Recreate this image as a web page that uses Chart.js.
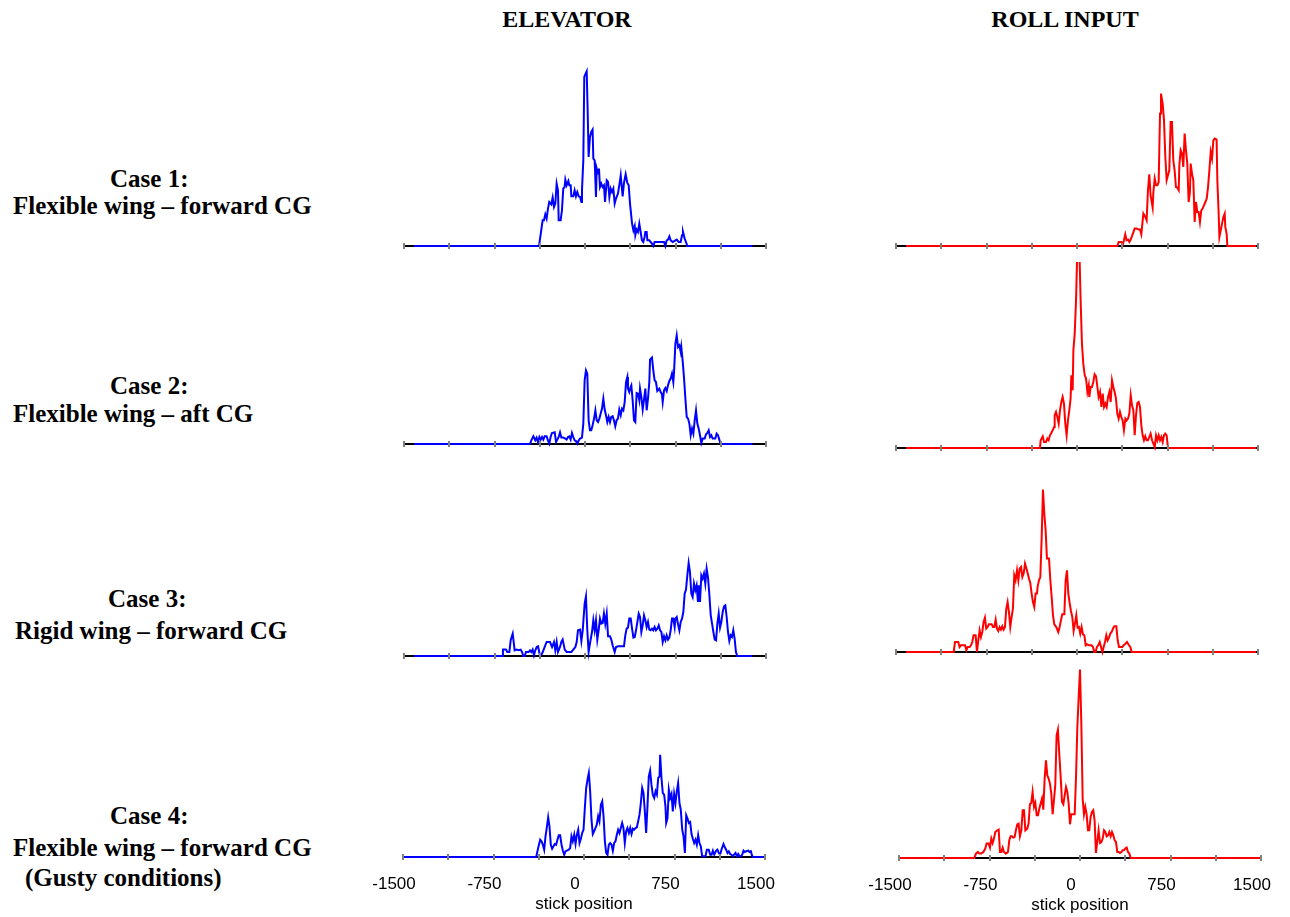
<!DOCTYPE html>
<html><head><meta charset="utf-8">
<script src="https://cdn.jsdelivr.net/npm/chart.js@4.4.1/dist/chart.umd.min.js"></script>
<style>
html,body{margin:0;padding:0;background:#fff;overflow:hidden;width:1290px;height:917px;}
.t{position:absolute;font-family:"Liberation Serif","Times New Roman",serif;font-weight:bold;color:#000;white-space:nowrap;line-height:1;}
.c{text-align:center;width:300px;}
canvas{position:absolute;}
</style></head><body>
<div class="t c" style="left:417px;top:7px;font-size:24px;">ELEVATOR</div>
<div class="t c" style="left:915px;top:7px;font-size:24px;">ROLL INPUT</div>

<div class="t" style="left:110px;top:166px;font-size:25px;">Case 1:</div>
<div class="t" style="left:13px;top:193px;font-size:25px;">Flexible wing – forward CG</div>
<div class="t" style="left:110px;top:373px;font-size:25px;">Case 2:</div>
<div class="t" style="left:13px;top:401px;font-size:25px;">Flexible wing – aft CG</div>
<div class="t" style="left:108px;top:586px;font-size:25px;">Case 3:</div>
<div class="t" style="left:15px;top:618px;font-size:25px;">Rigid wing – forward CG</div>
<div class="t" style="left:110px;top:803px;font-size:25px;">Case 4:</div>
<div class="t" style="left:13px;top:835px;font-size:25px;">Flexible wing – forward CG</div>
<div class="t" style="left:25px;top:865px;font-size:25px;">(Gusty conditions)</div>

<canvas id="e1"></canvas><canvas id="r1"></canvas>
<canvas id="e2"></canvas><canvas id="r2"></canvas>
<canvas id="e3"></canvas><canvas id="r3"></canvas>
<canvas id="e4"></canvas><canvas id="r4"></canvas>

<script>
// stick position axis
const tickValues = [-1500,-1125,-750,-375,0,375,750,1125,1500];
const labeledTicks = [-1500,-750,0,750,1500];
const axisTitle = 'stick position';

// [stick position, frequency] pairs
const elevatorCase1 = [[-1417,0],[-381,0],[-351,25.7],[-340,25.7],[-329,31.7],[-318,27.4],[-307,37.4],[-296,44],[-279,41.7],[-268,48.4],[-257,39],[-246,42.4],[-235,62.4],[-224,55.7],[-218,25.7],[-202,25.7],[-191,35.7],[-180,57.4],[-169,59],[-163,66.4],[-152,60.7],[-138,65],[-130,60.7],[-119,60.7],[-113,49.7],[-97,49.7],[-86,55.7],[-75,49.7],[-64,54],[-52,49.7],[-41,49],[-30,44],[-25,55.7],[-14,85.7],[-6,169],[5,172.4],[14,174.7],[22,135.7],[30,89],[41,109],[52,114],[63,116.4],[69,87.4],[80,85.7],[91,49],[97,77.4],[108,72.4],[116,77.4],[124,59],[135,62.4],[146,59],[157,60.7],[166,44],[180,65.7],[191,64],[202,49],[213,57.4],[224,54],[235,57.4],[246,42.4],[257,47.4],[273,52.4],[284,60.7],[296,70.7],[312,49.7],[323,63],[337,71.7],[351,63],[362,60.7],[373,42.4],[390,22.4],[401,15.7],[412,20],[417,10.7],[428,16.4],[439,14],[450,22.4],[461,14],[472,5.7],[483,4],[494,9],[500,14],[511,14],[517,5.7],[533,5.7],[544,4],[555,2.4],[566,0],[577,4],[655,4],[666,0],[677,5.7],[688,6.4],[699,9.7],[710,5.7],[727,4],[749,5.7],[760,6.4],[776,4],[793,4],[804,10.7],[812,14],[826,7.4],[837,4],[848,0],[1390,0]];
const rollCase1 = [[-1417,0],[334,0],[345,4],[367,4],[378,0.7],[389,5.7],[400,11.7],[411,5.7],[423,6.4],[434,4],[445,6.4],[461,11.7],[478,17.4],[494,17.4],[511,16.4],[522,16.4],[533,11.7],[550,32.4],[566,29],[577,25.7],[588,55.7],[599,71.7],[610,50.7],[627,38.4],[633,54],[644,67.4],[655,60.7],[666,60.7],[677,64],[682,95.7],[688,132.4],[696,152.4],[710,142.4],[721,125.7],[732,89],[743,65.7],[754,70.7],[765,75.7],[776,124],[787,124],[798,85.7],[809,75.7],[820,59],[831,58.4],[843,55.7],[848,80.7],[859,95.7],[870,92.4],[881,79],[892,112.4],[903,95.7],[914,82.4],[925,44],[936,54],[942,82.4],[953,72.4],[964,65.7],[975,24],[986,44],[997,34],[1008,34],[1019,24],[1030,35.7],[1041,37.4],[1052,40.7],[1064,44],[1075,47.4],[1086,59],[1097,75.7],[1108,94],[1119,87.4],[1130,105.7],[1141,107.4],[1157,106.4],[1163,65.7],[1174,32.4],[1180,9],[1191,15.7],[1202,22.4],[1213,29],[1224,32.4],[1229,19],[1240,12.4],[1246,0],[1484,0]];
const elevatorCase2 = [[-1417,0],[-456,0],[-445,3.7],[-428,7.7],[-412,3.7],[-401,6.4],[-390,2],[-378,7],[-367,4.4],[-356,7],[-345,4.4],[-334,7.7],[-318,7.7],[-307,3.7],[-296,0.4],[-285,7],[-274,11],[-251,11.7],[-240,2],[-229,4.4],[-218,7],[-207,11.7],[-196,6.4],[-180,6.4],[-163,5.4],[-152,4.4],[-141,7],[-130,7.7],[-119,4.4],[-108,11],[-97,7],[-86,3.7],[-75,3],[-64,0.4],[-52,3.7],[-41,5.4],[-25,6.4],[-14,20.4],[-3,63.7],[8,73.7],[19,70.4],[30,23.7],[41,13.7],[52,13.7],[63,18.7],[75,25.4],[86,33.7],[97,23.7],[108,22],[119,25.4],[130,30.4],[141,35.4],[152,45.4],[163,34.4],[174,28.7],[185,22],[196,27],[207,22],[218,27],[229,27.7],[240,23.7],[251,17.7],[262,23.7],[273,25.4],[284,34.4],[296,28.7],[307,35.4],[318,33.7],[329,42],[340,62],[351,67],[356,55.4],[367,52],[378,57],[384,58.7],[395,43.7],[406,23.7],[417,22],[428,51],[439,50.4],[450,43.7],[456,55.4],[467,47],[478,34.4],[489,44.4],[500,55.4],[511,33.7],[522,45.4],[533,62],[539,84.4],[555,86.4],[566,73.7],[577,63.7],[588,62],[599,53],[616,55.4],[627,52],[638,49.7],[644,42],[655,53.7],[666,56],[677,53],[688,58.7],[699,63],[710,65.4],[721,70.4],[732,62],[738,72],[749,100.4],[760,108.7],[771,97],[782,98.7],[793,92],[798,97],[809,83.7],[820,67],[831,47],[843,27],[854,25.4],[865,20.4],[876,8.7],[887,15.4],[898,10.4],[909,23.7],[920,33.7],[931,20.4],[942,15.4],[953,8.7],[964,1],[975,5.4],[992,5.4],[1003,9.7],[1014,11],[1025,13.7],[1036,7],[1047,8.7],[1058,5.4],[1080,5.4],[1091,10.4],[1102,8.7],[1113,4.4],[1124,0],[1390,0]];
const rollCase2 = [[-1417,0],[-307,0],[-301,7.7],[-284,11.7],[-273,6],[-257,6],[-246,9.4],[-235,7.7],[-224,12.7],[-213,15],[-202,17.7],[-190,21],[-185,32.7],[-174,36],[-163,31],[-152,24.4],[-141,37.7],[-130,46],[-119,51],[-108,44.4],[-97,24.4],[-86,12.7],[-75,27.7],[-64,37.7],[-53,49.4],[-47,72.7],[-36,57.7],[-30,97.7],[-19,114.4],[-8,147.7],[11,240],[30,147.7],[41,104.4],[52,84.4],[64,72.7],[75,69.4],[86,56],[97,62.7],[102,51],[113,61],[124,61],[135,66],[146,73.7],[158,71.7],[169,61],[179,51],[191,56],[202,41],[213,54.4],[224,41],[235,44.4],[246,41],[257,51],[268,56],[279,46],[290,67.7],[301,61],[312,56],[323,49.4],[334,34.4],[345,29.4],[356,36],[367,31],[378,27.7],[389,17.7],[401,29.4],[412,27.7],[423,29.4],[434,34.4],[445,52.7],[456,42.7],[467,37.7],[478,12.7],[489,32.7],[500,45],[511,46],[522,41],[533,22.7],[544,12.7],[555,7.7],[566,11.7],[577,7.7],[588,7.7],[599,11],[610,14.4],[622,7.7],[633,4.4],[644,1],[655,12.7],[666,7.7],[677,12.7],[688,7.7],[699,11],[710,6],[721,12.7],[732,14.4],[743,12.7],[754,0],[1484,0]];
const elevatorCase3 = [[-1417,0],[-682,0],[-680,6.4],[-655,6.4],[-644,4],[-627,4],[-616,15.7],[-599,22.4],[-583,5.7],[-566,6.4],[-550,5.7],[-533,6.4],[-522,4],[-511,0],[-500,0],[-489,4],[-467,4],[-456,5.7],[-445,4],[-434,6.4],[-423,0.7],[-412,5.7],[-400,9],[-389,9.7],[-373,0],[-356,2.4],[-345,5.7],[-329,10.7],[-318,14],[-290,14],[-273,9],[-257,14],[-246,5.7],[-235,14],[-224,4],[-207,9],[-196,14],[-185,16.4],[-168,6.4],[-152,4],[-130,4],[-113,4],[-97,6.4],[-80,9],[-69,14],[-58,25.7],[-41,26.4],[-30,15],[-19,25.7],[-3,52.4],[8,59.7],[19,25.7],[30,4],[41,12.4],[58,24],[69,35.7],[80,25.7],[91,35.7],[102,16.4],[113,25.7],[124,37.4],[135,32.4],[146,33],[157,42.4],[168,32.4],[180,42.4],[191,19.7],[207,19.7],[218,16.4],[229,10.7],[246,4],[257,9],[274,9.7],[323,9.7],[334,20.7],[345,27.4],[356,28.4],[367,37.4],[379,37.4],[390,27.4],[401,18.4],[412,19],[423,25.7],[434,34],[445,42.4],[456,39],[467,24],[478,30.7],[489,40.7],[500,35.7],[511,29],[522,34],[533,26.4],[544,25.7],[555,27.4],[566,25.7],[577,29],[588,25.7],[600,27.4],[611,30.7],[622,25.7],[633,24],[644,14],[655,19.7],[666,15.7],[677,20.7],[688,16.4],[699,18.4],[710,25.7],[721,37.4],[732,37.4],[743,29],[749,37.4],[760,39],[771,31.7],[782,25.7],[793,34],[804,37.4],[815,44],[826,62.4],[837,66.4],[848,80.7],[859,93],[870,84],[881,62.4],[892,59],[903,72.4],[914,65.7],[925,70.7],[936,54],[942,70.7],[953,54],[964,80.7],[975,77.4],[986,82.4],[997,72.4],[1008,87.4],[1019,79],[1030,62.4],[1042,40.7],[1053,32.4],[1064,24],[1075,16.4],[1086,15.7],[1097,32.4],[1108,42.4],[1119,28.4],[1130,34],[1141,44],[1152,49.7],[1163,50.7],[1174,39],[1185,24],[1196,15],[1207,20.7],[1218,19],[1229,25.7],[1240,17.4],[1251,4],[1262,0],[1390,0]];
const rollCase3 = [[-1417,0],[-1022,0],[-1011,10],[-984,10],[-973,5],[-962,6.7],[-928,6.7],[-917,1.7],[-906,5],[-890,5],[-879,6.7],[-868,10],[-857,16.7],[-840,16.7],[-829,0],[-818,11.7],[-807,21.7],[-796,15],[-785,20],[-774,30],[-763,34.4],[-752,23.4],[-741,25],[-730,27.7],[-707,27.7],[-696,25],[-685,25],[-674,32.4],[-663,23.4],[-652,21],[-641,25],[-630,22.4],[-619,25.7],[-608,22.4],[-597,25],[-586,43.4],[-575,50],[-564,40],[-553,25],[-542,35],[-531,43.4],[-520,76.7],[-509,71.7],[-497,81.7],[-486,71.7],[-475,83.4],[-464,85],[-453,75],[-442,78.4],[-431,88.4],[-415,81.7],[-398,73.4],[-387,69],[-376,58.4],[-365,50],[-354,45],[-343,58.4],[-332,58.4],[-326,65.7],[-315,71.7],[-304,75],[-293,113.4],[-282,162.4],[-271,138.4],[-260,121.7],[-249,93.4],[-232,93.4],[-221,71.7],[-210,55],[-199,36.7],[-188,27.7],[-172,25],[-155,20],[-144,25],[-133,31.7],[-122,37.7],[-105,37.7],[-94,71.7],[-83,81.7],[-72,58.4],[-61,49],[-50,41],[-39,35],[-28,21],[-17,28.4],[-6,36.7],[5,24.4],[16,25],[27,18.4],[38,25],[49,17.7],[61,16.7],[72,6.7],[83,7.7],[99,6.7],[121,6.7],[132,5],[143,0],[154,0],[165,5],[176,6.7],[188,10],[199,5],[210,0],[221,5],[232,10],[243,16.7],[254,11.7],[265,14.4],[276,18.4],[287,20],[298,23.4],[309,25.7],[326,25.7],[337,11.7],[348,5],[359,5],[375,5],[387,6.7],[403,8.4],[414,10],[431,6.7],[442,5],[453,0],[1484,0]];
const elevatorCase4 = [[-1500,0],[-396,0],[-380,9],[-363,17.3],[-352,15.7],[-341,12.3],[-330,7.3],[-319,20.7],[-308,29.7],[-297,39.7],[-286,30.7],[-275,12.3],[-264,8.3],[-253,10.7],[-242,13],[-231,12.3],[-220,17.3],[-209,21.7],[-198,21.7],[-186,12.3],[-175,6.3],[-164,2.3],[-153,5.7],[-142,6.3],[-126,7.3],[-115,9],[-104,20.7],[-93,15.7],[-81,22.3],[-70,13],[-59,22.3],[-48,27.3],[-37,14],[-26,18.3],[-15,24],[-4,27.3],[7,49],[18,69],[29,77.3],[40,84],[51,65.7],[62,37.3],[73,23],[84,25.7],[95,29],[106,32.3],[117,40.7],[128,35.7],[140,52.3],[151,55.7],[162,40.7],[173,15.7],[184,4],[195,2.3],[206,12.3],[217,14],[228,12.3],[239,6.3],[250,14],[261,15.7],[272,22.3],[283,27.3],[294,24],[305,29],[316,34],[327,29],[338,14],[349,25.7],[360,29],[372,24],[383,29],[394,23],[405,28.3],[416,27.3],[427,29],[438,29.7],[449,35.7],[460,42.3],[471,54],[482,69],[493,64],[504,45.7],[515,24],[526,50.7],[537,80.7],[548,86.3],[559,72.3],[570,62.3],[582,59],[593,65.7],[604,62.3],[615,79],[626,80.7],[631,102.3],[642,79],[653,64],[664,62.3],[675,50.7],[681,34],[692,39],[703,67.3],[714,59],[725,63],[736,45.7],[747,63],[758,54],[769,65.7],[780,74],[791,54],[802,47.3],[814,27.3],[825,20.7],[836,4],[847,41.7],[858,38.3],[869,34],[880,35],[891,23],[902,18.3],[913,14],[924,17.3],[935,12.3],[946,21.7],[957,14],[968,10.7],[979,0.7],[990,0.7],[1007,0.7],[1018,7.3],[1034,7.3],[1046,2.3],[1057,2.3],[1068,6.3],[1079,2.3],[1095,6.3],[1106,7.3],[1117,4],[1128,2.3],[1139,7.3],[1156,13],[1167,9.7],[1178,7.3],[1189,4],[1200,5.7],[1211,3],[1222,2.3],[1233,0.7],[1244,2.3],[1256,4],[1267,0.7],[1278,3],[1289,0.7],[1300,0.7],[1311,2.3],[1322,6.3],[1333,5],[1344,5.7],[1361,6.3],[1372,5],[1383,5.7],[1394,0.7],[1405,0],[1500,0]];
const rollCase4 = [[-1500,0],[-876,0],[-862,4.4],[-846,6],[-834,4.4],[-818,4.4],[-801,6],[-785,9.4],[-774,14.4],[-757,14.4],[-746,10.4],[-735,19.4],[-724,15],[-713,19.4],[-702,26],[-685,27.7],[-674,28.4],[-663,6],[-652,6],[-641,10.4],[-630,6],[-614,4.4],[-597,6],[-586,17.7],[-575,21.7],[-564,21.7],[-553,20.4],[-542,21],[-531,27.7],[-520,33.7],[-509,34.4],[-498,21.7],[-486,27.7],[-475,47.7],[-464,47.7],[-453,27.7],[-437,29.4],[-426,34.4],[-415,53.7],[-404,55],[-393,66],[-381,51],[-370,55],[-359,42.7],[-348,42.7],[-337,49.4],[-326,54.4],[-315,59.4],[-304,48.4],[-293,79.4],[-282,97.7],[-271,82.7],[-260,79.4],[-249,74.4],[-238,64.4],[-227,43.7],[-216,57.7],[-205,72.7],[-194,122.7],[-183,128.4],[-172,104.4],[-160,81],[-149,56],[-138,53.7],[-127,62.7],[-116,71],[-105,66],[-94,54.4],[-83,33.7],[-72,43.7],[-61,43.7],[-44,43.7],[-33,81],[-22,131],[-11,161],[0,188.4],[11,134.4],[22,59.4],[33,43.7],[44,51],[55,43.7],[66,27.7],[77,27.7],[88,41],[99,46],[110,47.7],[121,37.7],[132,5],[143,16],[154,27.7],[166,15],[177,16],[188,19.4],[199,27.7],[210,26],[221,21.7],[232,22.7],[243,26],[254,21.7],[265,26],[276,22.7],[287,17.7],[298,16],[309,6],[320,6],[331,5],[342,6],[353,7.7],[364,7.7],[375,9.4],[387,10.4],[398,6],[409,4.4],[420,0],[1500,0]];

const BLUE = '#0000ff', RED = '#ff0000';
const PAD_L = 40, PAD_T = 5, AXIS_H = 70, PLOT_W = 362;

const panels = [
  {id:'e1', data:elevatorCase1, color:BLUE, left:404, base:246, ymax:180, labels:false, clipTop:5},
  {id:'r1', data:rollCase1,     color:RED,  left:896, base:246, ymax:180, labels:false, clipTop:5},
  {id:'e2', data:elevatorCase2, color:BLUE, left:404, base:444, ymax:180, labels:false, clipTop:5},
  {id:'r2', data:rollCase2,     color:RED,  left:896, base:448, ymax:186, labels:false, clipTop:0},
  {id:'e3', data:elevatorCase3, color:BLUE, left:404, base:656, ymax:180, labels:false, clipTop:5},
  {id:'r3', data:rollCase3,     color:RED,  left:896, base:652, ymax:180, labels:false, clipTop:5},
  {id:'e4', data:elevatorCase4, color:BLUE, left:403, base:857, ymax:190, labels:true,  clipTop:5},
  {id:'r4', data:rollCase4,     color:RED,  left:899, base:858, ymax:190, labels:true,  clipTop:5}
];

const tickMarks = {
  id:'tickMarks',
  afterDatasetsDraw(chart){
    const s = chart.scales.x, ctx = chart.ctx, yb = chart.chartArea.bottom;
    ctx.save();
    ctx.strokeStyle = '#808080'; ctx.lineWidth = 2;
    s.ticks.forEach(t => {
      const x = Math.round(s.getPixelForValue(t.value));
      ctx.beginPath(); ctx.moveTo(x, yb - 3); ctx.lineTo(x, yb + 3); ctx.stroke();
    });
    ctx.restore();
  }
};

panels.forEach(p => {
  const cv = document.getElementById(p.id);
  const w = PLOT_W + 2 * PAD_L, h = p.ymax + PAD_T + AXIS_H;
  cv.width = w; cv.height = h;
  cv.style.width = w + 'px'; cv.style.height = h + 'px';
  cv.style.left = (p.left - PAD_L) + 'px';
  cv.style.top = (p.base - p.ymax - PAD_T) + 'px';
  new Chart(cv, {
    type:'line',
    data:{ datasets:[{
      data: p.data.map(d => ({x:d[0], y:d[1]})),
      borderColor:p.color, borderWidth:2, pointRadius:0, tension:0, fill:false,
      clip:{left:5, right:5, top:p.clipTop, bottom:5}
    }]},
    options:{
      responsive:false, animation:false, devicePixelRatio:1, events:[],
      layout:{padding:{left:PAD_L, right:PAD_L, top:PAD_T, bottom:0}},
      plugins:{legend:{display:false}, tooltip:{enabled:false}},
      scales:{
        x:{
          type:'linear', min:-1500, max:1500,
          afterBuildTicks: s => { s.ticks = tickValues.map(v => ({value:v})); },
          afterFit: s => { s.height = AXIS_H; },
          grid:{display:false, drawTicks:false},
          border:{display:true, color:'#000', width:2},
          ticks:{
            display:p.labels, autoSkip:false, maxRotation:0, padding:17, labelOffset:-9,
            color:'#000', font:{family:'"Liberation Sans", Arial, sans-serif', size:17},
            callback: v => labeledTicks.includes(v) ? String(v) : ''
          },
          title:{display:p.labels, text:axisTitle, color:'#000',
            font:{family:'"Liberation Sans", Arial, sans-serif', size:17},
            padding:{top:0, bottom:12}}
        },
        y:{display:false, min:0, max:p.ymax}
      }
    },
    plugins:[tickMarks]
  });
});
</script>
</body></html>
